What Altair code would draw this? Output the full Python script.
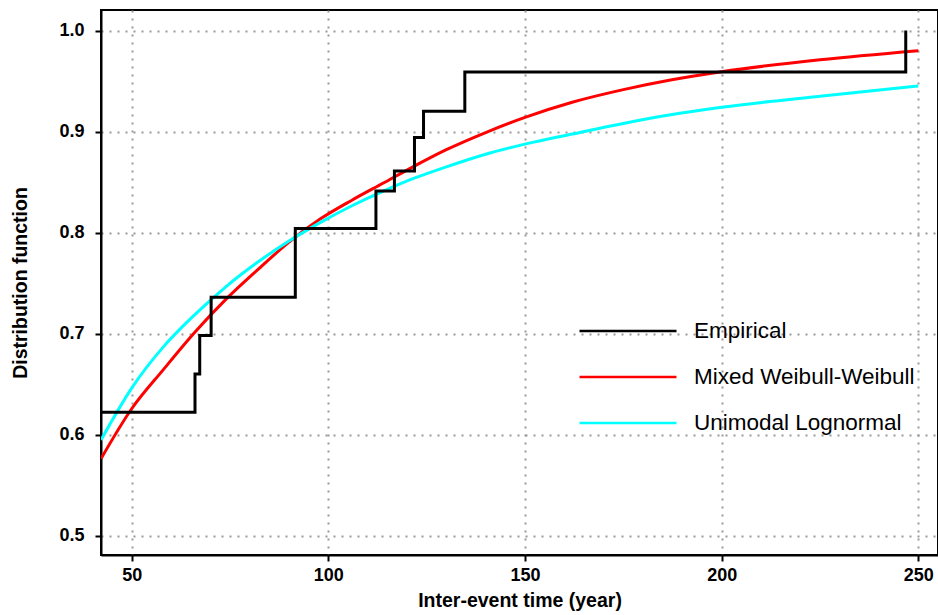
import altair as alt
import pandas as pd

# Empirical distribution (step function)
emp_x = [42.2, 66.1, 67.3, 70.2, 91.6, 112.1, 116.8, 121.9, 124.2, 134.7, 246.8]
emp_y = [0.622, 0.660, 0.698, 0.736, 0.804, 0.841, 0.861, 0.894, 0.920, 0.959, 1.0]

# Mixed Weibull-Weibull fitted CDF
ww_x = [42.2, 50, 58, 66, 74, 82, 90, 98, 106, 114, 122, 130, 140, 150, 162, 175, 187, 200, 225, 250]
ww_y = [0.576, 0.6255, 0.664, 0.701, 0.734, 0.763, 0.7905, 0.8135, 0.832, 0.849, 0.866, 0.882,
        0.899, 0.914, 0.929, 0.9415, 0.951, 0.9592, 0.971, 0.980]

# Unimodal Lognormal fitted CDF
ln_x = [42.2, 50, 58, 66, 74, 82, 90, 98, 106, 114, 122, 130, 140, 150, 162, 175, 187, 200, 225, 250]
ln_y = [0.5946, 0.646, 0.6865, 0.7185, 0.7465, 0.7705, 0.7915, 0.810, 0.8265, 0.841, 0.854, 0.865,
        0.8775, 0.8875, 0.8975, 0.908, 0.9165, 0.924, 0.935, 0.945]

series = ["Empirical", "Mixed Weibull-Weibull", "Unimodal Lognormal"]
colors = ["#000000", "#ff0000", "#00ffff"]
x_ticks = [50, 100, 150, 200, 250]
y_ticks = [0.5, 0.6, 0.7, 0.8, 0.9, 1.0]

emp = pd.DataFrame({"x": emp_x, "y": emp_y, "s": series[0]})
ww = pd.DataFrame({"x": ww_x, "y": ww_y, "s": series[1]})
ln = pd.DataFrame({"x": ln_x, "y": ln_y, "s": series[2]})

FONT = "Liberation Sans"

xenc = alt.X("x:Q", scale=alt.Scale(domain=[42.2, 255], nice=False, zero=False),
             axis=alt.Axis(values=x_ticks, title="Inter-event time (year)", format="d",
                           labelPadding=5, titlePadding=7))
yenc = alt.Y("y:Q", scale=alt.Scale(domain=[0.4807, 1.0203], nice=False, zero=False),
             axis=alt.Axis(values=y_ticks, title="Distribution function", format=".1f",
                           labelPadding=11, titlePadding=28))
color = alt.Color("s:N", scale=alt.Scale(domain=series, range=colors),
                  legend=alt.Legend(orient="none", legendX=477, legendY=301, title=None,
                                    symbolType="stroke", symbolSize=9409, symbolStrokeWidth=2.5,
                                    labelFontSize=22.5, labelFont=FONT, labelColor="black",
                                    labelOffset=16, rowPadding=6, clipHeight=40, labelLimit=0))

curves = alt.Chart(pd.concat([ww, ln])).mark_line(strokeWidth=3, interpolate="monotone", clip=True).encode(
    x=xenc, y=yenc, color=color, order=alt.Order("x:Q"))
steps = alt.Chart(emp).mark_line(strokeWidth=3, interpolate="step-after", clip=True).encode(
    x=xenc, y=yenc, color=color)

chart = alt.layer(curves, steps).properties(
    width=837, height=545,
    background="white",
    autosize=alt.AutoSizeParams(type="none"),
    padding={"left": 101, "top": 10, "right": 0, "bottom": 60},
).configure_view(stroke="black", strokeWidth=2).configure_axis(
    domainColor="black", domainWidth=2, tickColor="black", tickWidth=2, tickSize=6,
    labelFont=FONT, labelFontSize=18, labelFontWeight="bold", labelColor="black",
    titleFont=FONT, titleFontSize=19.5, titleFontWeight="bold", titleColor="black",
    grid=True, gridColor="#999999", gridDash=[2, 6], gridWidth=2,
)

chart.save("out.html", embed_options={"renderer": "svg", "actions": False})
